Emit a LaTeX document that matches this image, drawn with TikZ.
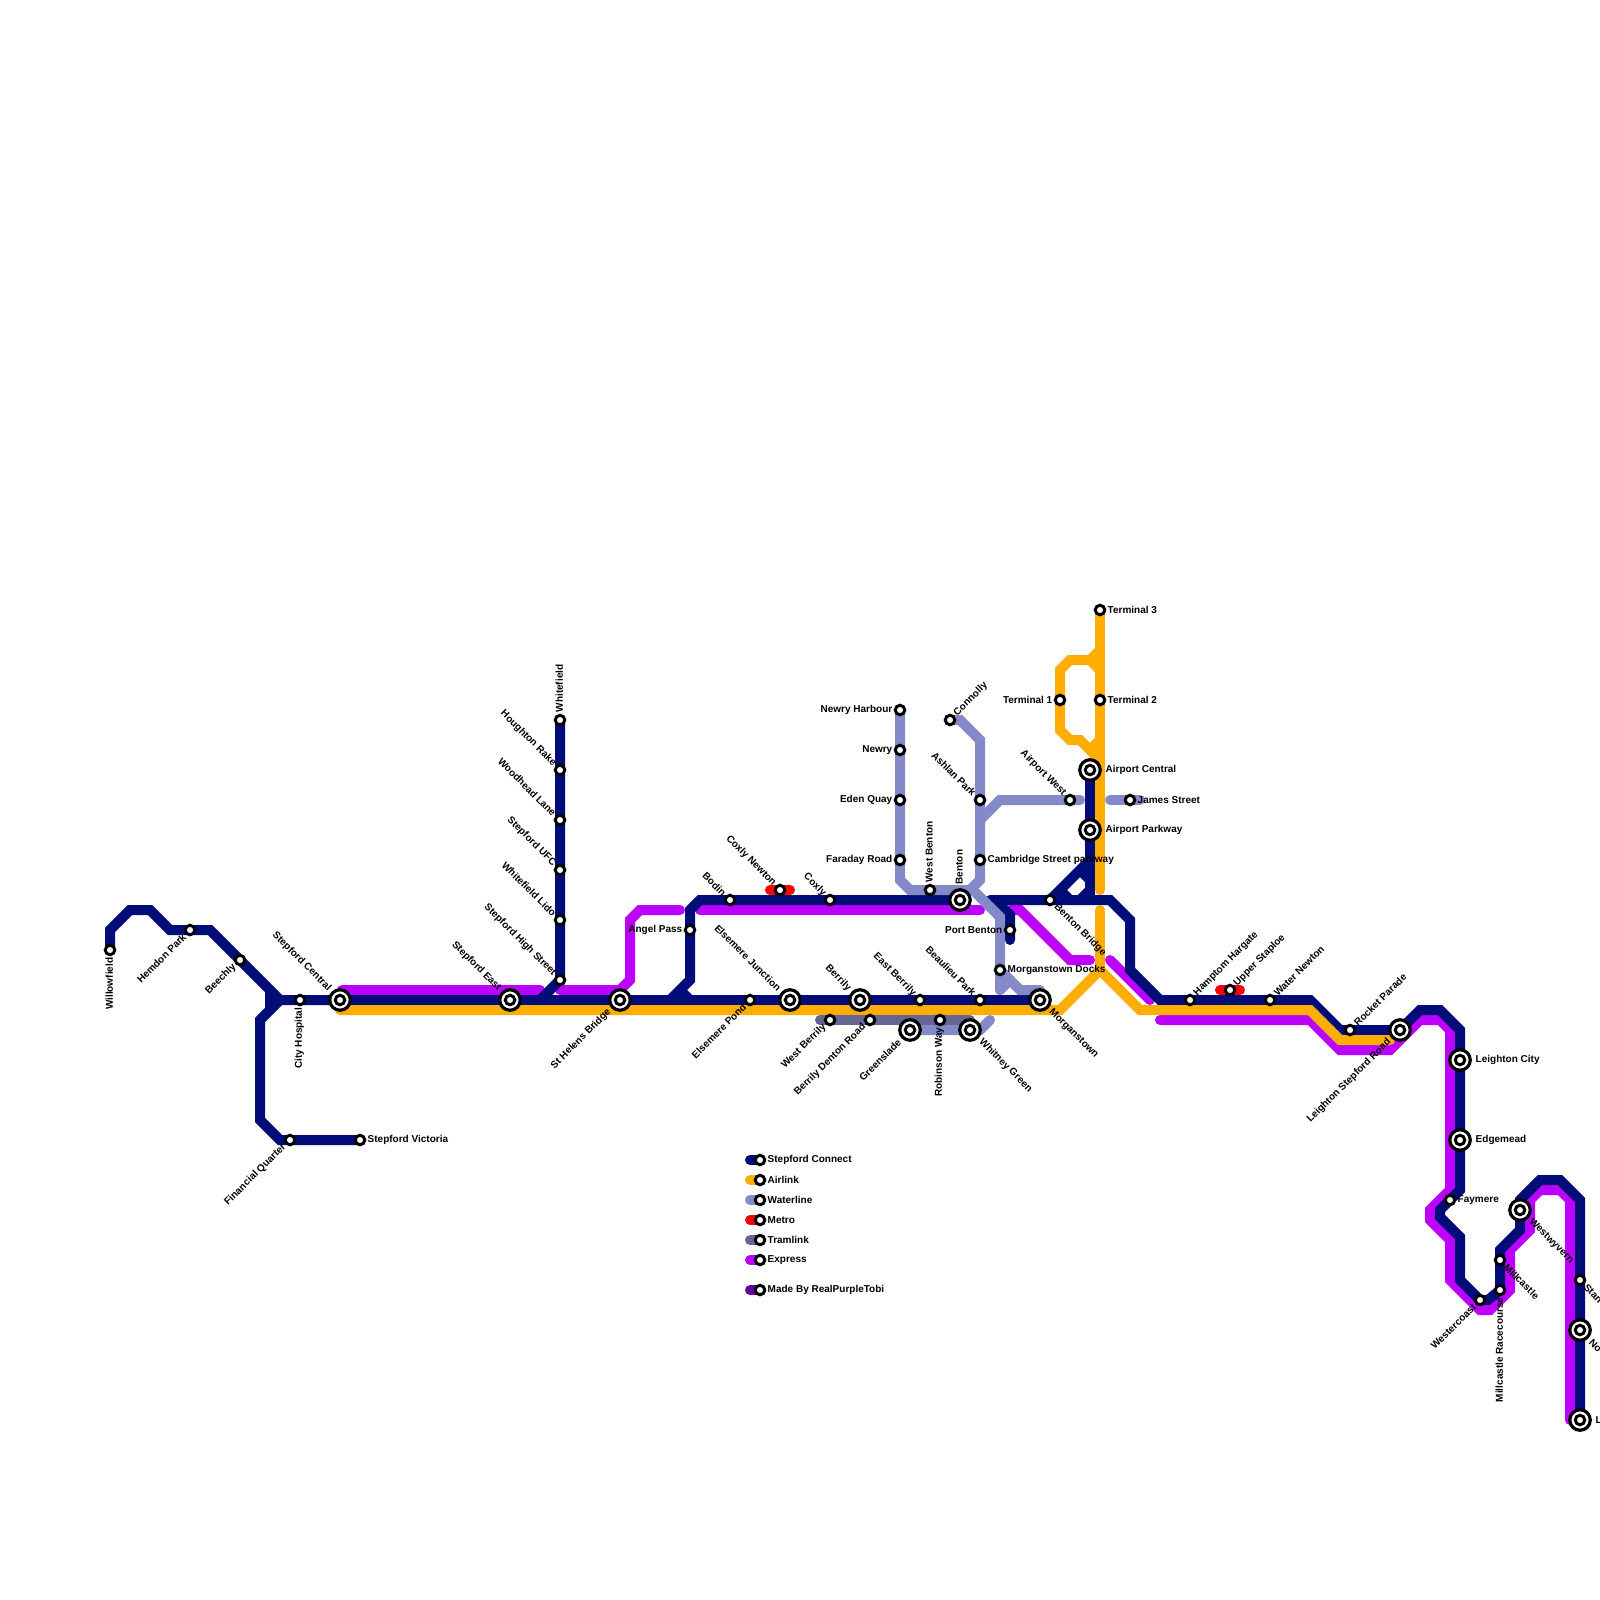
\documentclass[tikz,border=0pt]{standalone}
\usepackage{fontspec}
\setmainfont{Liberation Sans}[BoldFont={Liberation Sans Bold}]
\definecolor{navy}{HTML}{000C78}
\definecolor{airlink}{HTML}{FFAD00}
\definecolor{water}{HTML}{848AC8}
\definecolor{metro}{HTML}{FF0000}
\definecolor{tram}{HTML}{666694}
\definecolor{express}{HTML}{BB00FF}
\definecolor{tobi}{HTML}{660099}
\tikzset{
 x=1pt,y=-1pt,
 ln/.style={line width=10pt,line cap=round,line join=miter,miter limit=10},
 stn/.style={circle,draw=black,fill=white,line width=3pt,minimum size=9.5pt,inner sep=0pt,outer sep=0pt},
 hubo/.style={circle,draw=black,fill=white,line width=3.2pt,minimum size=20.5pt,inner sep=0pt,outer sep=0pt},
 hubi/.style={circle,draw=black,fill=white,line width=3pt,minimum size=9.5pt,inner sep=0pt,outer sep=0pt},
 lab/.style={font=\bfseries\fontsize{10}{11}\selectfont,inner sep=0pt,text=black},
 lR/.style={lab,anchor=west},
 lL/.style={lab,anchor=east},
 lU/.style={lab,anchor=west,rotate=90},
 lD/.style={lab,anchor=east,rotate=90},
 lNE/.style={lab,anchor=west,rotate=45},
 lSW/.style={lab,anchor=east,rotate=45},
 lNW/.style={lab,anchor=east,rotate=-45},
 lSE/.style={lab,anchor=west,rotate=-45},
}
\newcommand{\Stn}[3]{\node[stn] (#1) at (#2,#3) {};}
\newcommand{\Hub}[3]{\node[hubo] (#1) at (#2,#3) {};\node[hubi] (#1i) at (#2,#3) {};}
\newcommand{\Lab}[3]{%
 \ifx#2R\node[lR] (#1t) at ([xshift=7.5pt,yshift=0.3pt]#1.center) {#3};\fi
 \ifx#2L\node[lL] (#1t) at ([xshift=-7.5pt,yshift=0.3pt]#1.center) {#3};\fi
 \ifx#2U\node[lU] (#1t) at ([xshift=-0.8pt,yshift=7.5pt]#1.center) {#3};\fi
 \ifx#2D\node[lD] (#1t) at ([xshift=-0.8pt,yshift=-7.5pt]#1.center) {#3};\fi
 \ifx#2A\node[lNE] (#1t) at ([xshift=5.5pt,yshift=5.5pt]#1.center) {#3};\fi
 \ifx#2B\node[lSW] (#1t) at ([xshift=-5.5pt,yshift=-5.5pt]#1.center) {#3};\fi
 \ifx#2C\node[lNW] (#1t) at ([xshift=-5.5pt,yshift=5.5pt]#1.center) {#3};\fi
 \ifx#2E\node[lSE] (#1t) at ([xshift=5.5pt,yshift=-5.5pt]#1.center) {#3};\fi
}
\newcommand{\HLab}[3]{%
 \ifx#2R\node[lR] (#1t) at ([xshift=15.5pt,yshift=0.3pt]#1.center) {#3};\fi
 \ifx#2L\node[lL] (#1t) at ([xshift=-15.5pt,yshift=0.3pt]#1.center) {#3};\fi
 \ifx#2U\node[lU] (#1t) at ([xshift=-0.8pt,yshift=15.5pt]#1.center) {#3};\fi
 \ifx#2D\node[lD] (#1t) at ([xshift=-0.8pt,yshift=-15.5pt]#1.center) {#3};\fi
 \ifx#2A\node[lNE] (#1t) at ([xshift=10.5pt,yshift=10.5pt]#1.center) {#3};\fi
 \ifx#2B\node[lSW] (#1t) at ([xshift=-10.5pt,yshift=-10.5pt]#1.center) {#3};\fi
 \ifx#2C\node[lNW] (#1t) at ([xshift=-10.5pt,yshift=10.5pt]#1.center) {#3};\fi
 \ifx#2E\node[lSE] (#1t) at ([xshift=10.5pt,yshift=-10.5pt]#1.center) {#3};\fi
}
\begin{document}
\begin{tikzpicture}
\useasboundingbox (0,0) rectangle (1600,1600);
\clip (0,0) rectangle (1600,1600);
\fill[white] (0,0) rectangle (1600,1600);
\coordinate (Willow) at (110,950);
\coordinate (Victoria) at (360,1140);
\coordinate (SCentral) at (340,1000);
\coordinate (Morgan) at (1040,1000);
\coordinate (WhiteF) at (560,720);
\coordinate (TThree) at (1100,610);
\coordinate (AirC) at (1090,770);
\coordinate (NewryH) at (900,710);
\coordinate (Conn) at (950,720);
\coordinate (Ln) at (1580,1420);
% ---- express
\draw[ln,express] (342,990) -- (540,990);
\draw[ln,express] (560,990) -- (620,990) -- (630,980) -- (630,920) -- (640,910) -- (680,910);
\draw[ln,express] (700,910) -- (980,910);
\draw[ln,express] (1010,910) -- (1020,910) -- (1070,960) -- (1090,960);
\draw[ln,express] (1110,960) -- (1150,1000);
\draw[ln,express] (1160,1020) -- (1310,1020) -- (1340,1050) -- (1390,1050) -- (1420,1020) -- (1440,1020) -- (1450,1030) -- (1450,1190) -- (1430,1210) -- (1430,1220) -- (1450,1240) -- (1450,1280) -- (1480,1310) -- (1490,1310) -- (1510,1290) -- (1510,1250) -- (1530,1230) -- (1530,1200) -- (1540,1190) -- (1560,1190) -- (1570,1200) -- (1570,1420);
% ---- navy
\draw[ln,navy] (Willow) -- (110,930) -- (130,910) -- (150,910) -- (170,930) -- (210,930) -- (270,990) -- (280,1000) -- (SCentral);
\draw[ln,navy,line cap=butt] (270,990) -- (270,1010);
\draw[ln,navy] (280,1000) -- (260,1020) -- (260,1120) -- (280,1140) -- (Victoria);
\draw[ln,navy] (SCentral) -- (Morgan);
\draw[ln,navy] (WhiteF) -- (560,980) -- (540,1000);
\draw[ln,navy] (670,1000) -- (690,980) -- (690,910) -- (700,900) -- (960,900);
\draw[ln,navy] (680,990) -- (690,1000);
\draw[ln,navy] (990,900) -- (1110,900) -- (1130,920) -- (1130,970) -- (1160,1000) -- (1310,1000) -- (1340,1030) -- (1400,1030) -- (1420,1010) -- (1440,1010) -- (1460,1030) -- (1460,1190) -- (1440,1210) -- (1440,1217) -- (1460,1237) -- (1460,1280) -- (1480,1300) -- (1488,1300) -- (1500,1290) -- (1500,1250) -- (1520,1230) -- (1520,1200) -- (1540,1180) -- (1560,1180) -- (1580,1200) -- (Ln);
\draw[ln,navy] (995,900) -- (1010,915) -- (1010,940);
\draw[ln,navy] (AirC) -- (1090,900);
\draw[ln,navy,line cap=butt] (1090,860) -- (1050,900);
\draw[ln,navy,line cap=butt] (1080,870) -- (1090,880);
\draw[ln,navy,line cap=butt] (1090,890) -- (1080,900);
\draw[ln,navy,line cap=butt] (1060,890) -- (1070,900);
% ---- airlink
\draw[ln,airlink] (340,1010) -- (1060,1010) -- (1100,970) -- (1140,1010) -- (1310,1010) -- (1340,1040) -- (1390,1040);
\draw[ln,airlink] (1100,910) -- (1100,970);
\draw[ln,airlink] (TThree) -- (1100,890);
\draw[ln,airlink] (1100,650) -- (1090,660) -- (1070,660) -- (1060,670) -- (1060,730) -- (1070,740) -- (1080,740) -- (1100,760);
\draw[ln,airlink] (1090,660) -- (1100,670);
\draw[ln,airlink] (1100,740) -- (1090,750);
% ---- tram
\draw[ln,tram] (820,1020) -- (970,1020);
% ---- water
\draw[ln,water] (NewryH) -- (900,880) -- (910,890) -- (960,890);
\draw[ln,water] (Conn) -- (960,720) -- (980,740) -- (980,880) -- (970,890) -- (960,890);
\draw[ln,water] (980,820) -- (1000,800) -- (1080,800);
\draw[ln,water] (1110,800) -- (1140,800);
\draw[ln,water] (975,892) -- (1000,917) -- (1000,990);
\draw[ln,water] (1000,990) -- (1010,980);
\draw[ln,water] (1000,970) -- (1020,990) -- (1040,990);
\draw[ln,water] (910,1030) -- (980,1030) -- (990,1020);
% ---- metro
\draw[ln,metro] (770,890) -- (790,890);
\draw[ln,metro] (1220,990) -- (1240,990);
% ---- stations
\Stn{a1}{110}{950}\Stn{a2}{190}{930}\Stn{a3}{240}{960}\Stn{a4}{300}{1000}\Stn{a5}{290}{1140}\Stn{a6}{360}{1140}
\Hub{b1}{340}{1000}\Hub{b2}{510}{1000}\Hub{b3}{620}{1000}\Hub{b4}{790}{1000}\Hub{b5}{860}{1000}\Hub{b6}{1040}{1000}
\Stn{c1}{560}{720}\Stn{c2}{560}{770}\Stn{c3}{560}{820}\Stn{c4}{560}{870}\Stn{c5}{560}{920}\Stn{c6}{560}{980}
\Stn{d1}{690}{930}\Stn{d2}{730}{900}\Stn{d3}{780}{890}\Stn{d4}{830}{900}\Stn{d5}{750}{1000}
\Stn{e1}{830}{1020}\Stn{e2}{870}{1020}\Stn{e3}{920}{1000}\Stn{e4}{940}{1020}\Stn{e5}{980}{1000}
\Hub{e6}{910}{1030}\Hub{e7}{970}{1030}
\Stn{f1}{900}{710}\Stn{f2}{900}{750}\Stn{f3}{900}{800}\Stn{f4}{900}{860}\Stn{f5}{930}{890}\Hub{f6}{960}{900}
\Stn{g1}{950}{720}\Stn{g2}{980}{800}\Stn{g3}{980}{860}\Stn{g4}{1070}{800}\Stn{g5}{1010}{930}\Stn{g6}{1000}{970}\Stn{g7}{1050}{900}
\Stn{h1}{1100}{610}\Stn{h2}{1060}{700}\Stn{h3}{1100}{700}\Hub{h4}{1090}{770}\Hub{h5}{1090}{830}\Stn{h6}{1130}{800}
\Stn{i1}{1190}{1000}\Stn{i2}{1230}{990}\Stn{i3}{1270}{1000}\Stn{i4}{1350}{1030}\Hub{i5}{1400}{1030}
\Hub{j1}{1460}{1060}\Hub{j2}{1460}{1140}\Stn{j3}{1450}{1200}\Stn{j4}{1480}{1300}\Stn{j5}{1500}{1290}\Stn{j6}{1500}{1260}\Hub{j7}{1520}{1210}
\Stn{k1}{1580}{1280}\Hub{k2}{1580}{1330}\Hub{k3}{1580}{1420}
% ---- labels
\Lab{a1}{D}{Willowfield}\Lab{a2}{B}{Hemdon Park}\Lab{a3}{B}{Beechly}\Lab{a4}{D}{City Hospital}\Lab{a5}{B}{Financial Quarter}\Lab{a6}{R}{Stepford Victoria}
\HLab{b1}{C}{Stepford Central}\HLab{b2}{C}{Stepford East}\HLab{b3}{B}{St Helens Bridge}\HLab{b4}{C}{Elsemere Junction}\HLab{b5}{C}{Berrily}\HLab{b6}{E}{Morganstown}
\Lab{c1}{U}{Whitefield}\Lab{c2}{C}{Houghton Rake}\Lab{c3}{C}{Woodhead Lane}\Lab{c4}{C}{Stepford UFC}\Lab{c5}{C}{Whitefield Lido}\Lab{c6}{C}{Stepford High Street}
\Lab{d1}{L}{Angel Pass}\Lab{d2}{C}{Bodin}\Lab{d3}{C}{Coxly Newton}\Lab{d4}{C}{Coxly}\Lab{d5}{B}{Elsemere Pond}
\Lab{e1}{B}{West Berrily}\Lab{e2}{B}{Berrily Denton Road}\Lab{e3}{C}{East Berrily}\Lab{e4}{D}{Robinson Way}\Lab{e5}{C}{Beaulieu Park}
\HLab{e6}{B}{Greenslade}\HLab{e7}{E}{Whitney Green}
\Lab{f1}{L}{Newry Harbour}\Lab{f2}{L}{Newry}\Lab{f3}{L}{Eden Quay}\Lab{f4}{L}{Faraday Road}\Lab{f5}{U}{West Benton}\HLab{f6}{U}{Benton}
\Lab{g1}{A}{Connolly}\Lab{g2}{C}{Ashlan Park}\Lab{g3}{R}{Cambridge Street parkway}\Lab{g4}{C}{Airport West}\Lab{g5}{L}{Port Benton}\Lab{g6}{R}{Morganstown Docks}\Lab{g7}{E}{Benton Bridge}
\Lab{h1}{R}{Terminal 3}\Lab{h2}{L}{Terminal 1}\Lab{h3}{R}{Terminal 2}\HLab{h4}{R}{Airport Central}\HLab{h5}{R}{Airport Parkway}\Lab{h6}{R}{James Street}
\Lab{i1}{A}{Hamptom Hargate}\Lab{i2}{A}{Upper Staploe}\Lab{i3}{A}{Water Newton}\Lab{i4}{A}{Rocket Parade}\HLab{i5}{B}{Leighton Stepford Road}
\HLab{j1}{R}{Leighton City}\HLab{j2}{R}{Edgemead}\Lab{j3}{R}{Faymere}\Lab{j4}{B}{Westercoast}\Lab{j5}{D}{Millcastle Racecourse}\Lab{j6}{E}{Millcastle}\HLab{j7}{E}{Westwyvern}
\Lab{k1}{E}{Stan}\HLab{k2}{E}{No}\HLab{k3}{R}{L}
% ---- legend
\foreach \n/\c/\y/\t in {m1/navy/1160/Stepford Connect,m2/airlink/1180/Airlink,m3/water/1200/Waterline,m4/metro/1220/Metro,m5/tram/1240/Tramlink,m6/express/1260/Express,m7/tobi/1290/Made By RealPurpleTobi}{
 \coordinate (\n s) at (750,\y);
 \coordinate (\n c) at (760,\y);
 \draw[ln,\c] (\n s) -- (\n c);
 \node[stn] (\n) at (\n c) {};
 \node[lR] (\n t) at ([xshift=7.5pt,yshift=0.3pt]\n.center) {\t};
}
\end{tikzpicture}
\end{document}
